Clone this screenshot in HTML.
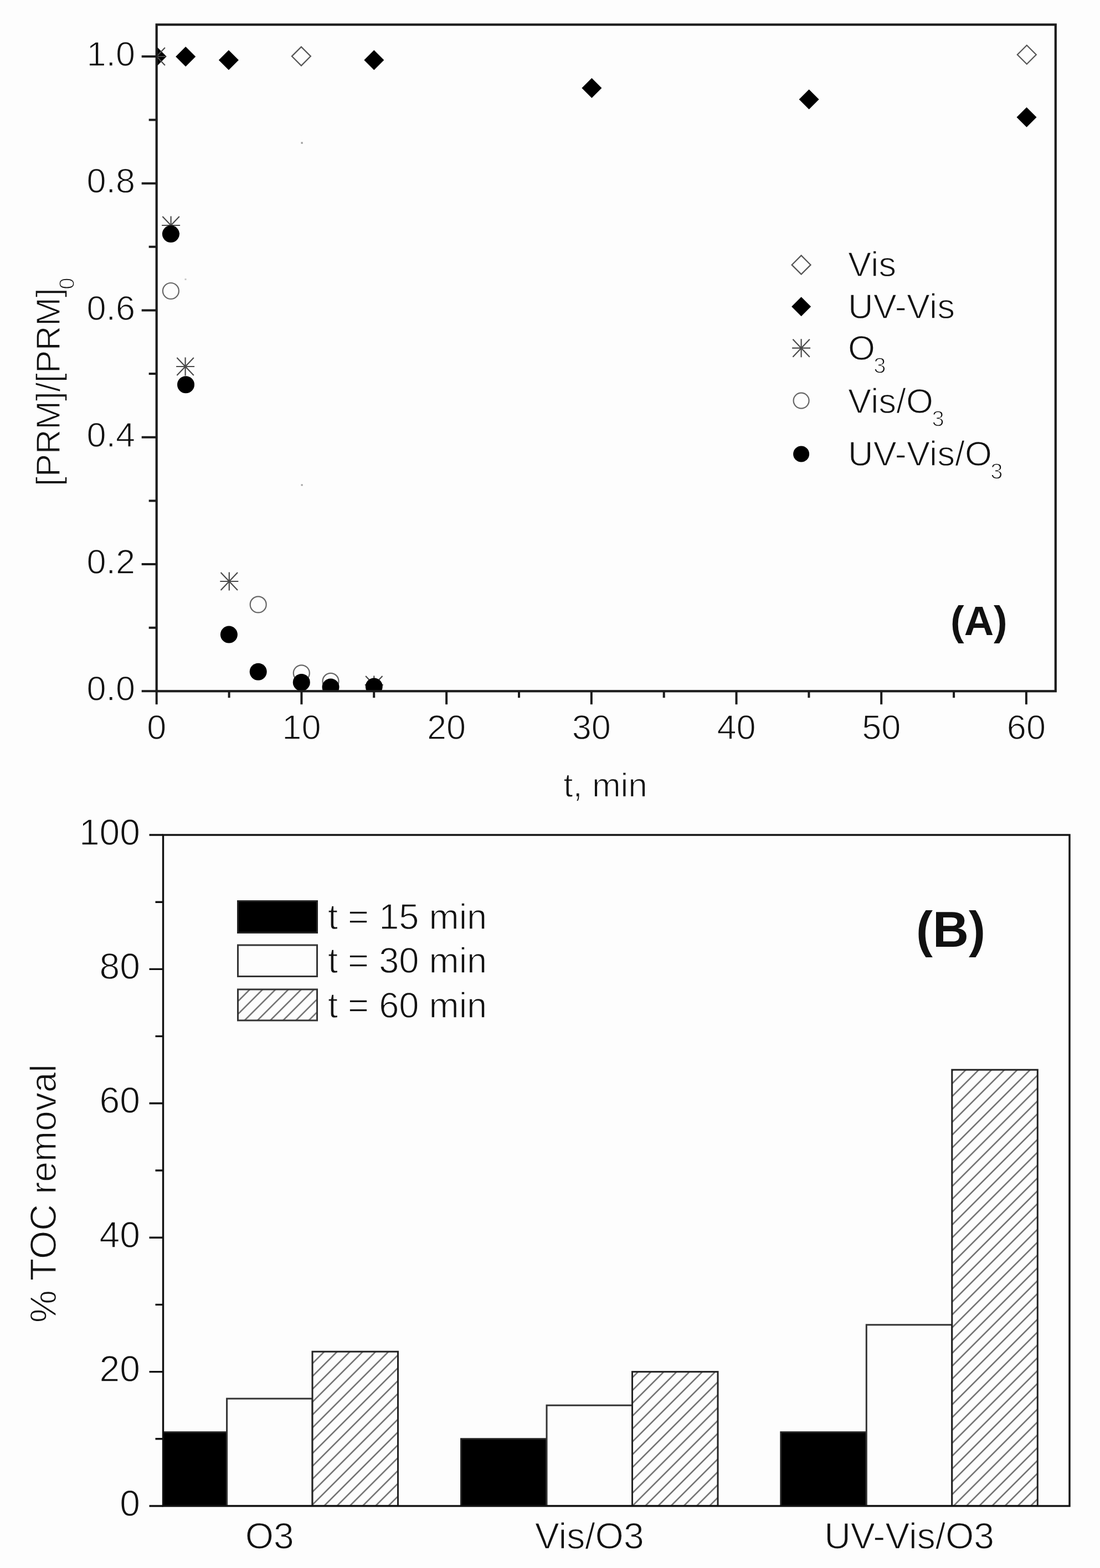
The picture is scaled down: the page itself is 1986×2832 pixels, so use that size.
<!DOCTYPE html>
<html><head><meta charset="utf-8"><title>Figure</title><style>html,body{margin:0;padding:0;background:#fdfdfd;width:1986px;height:2832px;overflow:hidden}</style></head><body>
<svg width="1986" height="2832" viewBox="0 0 1986 2832" style="display:block">
<style>text.r{stroke:#fdfdfd;stroke-width:1.3px;paint-order:normal}</style>
<defs>
<clipPath id="clipA"><rect x="282.7" y="44.5" width="1623.1" height="1203.8"/></clipPath>
<pattern id="hatch" patternUnits="userSpaceOnUse" width="16.4" height="16.4" patternTransform="rotate(45)"><line x1="8.2" y1="-1" x2="8.2" y2="17.4" stroke="#5e5e5e" stroke-width="2.3"/></pattern>
</defs>
<rect width="1986" height="2832" fill="#fdfdfd"/>
<g clip-path="url(#clipA)">
<path d="M543.9 84.6 L560.9 101.6 L543.9 118.6 L526.9 101.6 Z" fill="none" stroke="#555" stroke-width="2.2"/>
<path d="M1853.8 81.8 L1870.8 98.8 L1853.8 115.8 L1836.8 98.8 Z" fill="none" stroke="#555" stroke-width="2.2"/>
<path d="M282.7 84.0 L300.7 102.0 L282.7 120.0 L264.7 102.0 Z" fill="#000"/>
<path d="M335.2 84.2 L353.2 102.2 L335.2 120.2 L317.2 102.2 Z" fill="#000"/>
<path d="M412.9 90.4 L430.9 108.4 L412.9 126.4 L394.9 108.4 Z" fill="#000"/>
<path d="M675.3 90.4 L693.3 108.4 L675.3 126.4 L657.3 108.4 Z" fill="#000"/>
<path d="M1068.4 140.9 L1086.4 158.9 L1068.4 176.9 L1050.4 158.9 Z" fill="#000"/>
<path d="M1460.6 161.4 L1478.6 179.4 L1460.6 197.4 L1442.6 179.4 Z" fill="#000"/>
<path d="M1853.5 193.8 L1871.5 211.8 L1853.5 229.8 L1835.5 211.8 Z" fill="#000"/>
<path d="M266.2 102.0 H299.2 M282.7 85.5 V118.5 M267.5 86.0 L297.9 118.0 M297.9 86.0 L267.5 118.0" fill="none" stroke="#4a4a4a" stroke-width="2.2"/>
<path d="M292.1 407.0 H325.1 M308.6 390.5 V423.5 M293.4 391.0 L323.8 423.0 M323.8 391.0 L293.4 423.0" fill="none" stroke="#4a4a4a" stroke-width="2.2"/>
<path d="M318.1 662.0 H351.1 M334.6 645.5 V678.5 M319.4 646.0 L349.8 678.0 M349.8 646.0 L319.4 678.0" fill="none" stroke="#4a4a4a" stroke-width="2.2"/>
<path d="M397.3 1050.0 H430.3 M413.8 1033.5 V1066.5 M398.6 1034.0 L429.0 1066.0 M429.0 1034.0 L398.6 1066.0" fill="none" stroke="#4a4a4a" stroke-width="2.2"/>
<path d="M658.8 1237.0 H691.8 M675.3 1220.5 V1253.5 M660.1 1221.0 L690.5 1253.0 M690.5 1221.0 L660.1 1253.0" fill="none" stroke="#4a4a4a" stroke-width="2.2"/>
<circle cx="308.4" cy="525.5" r="14.5" fill="#fdfdfd" stroke="#666" stroke-width="2.2"/>
<circle cx="466.2" cy="1091.9" r="14.5" fill="#fdfdfd" stroke="#666" stroke-width="2.2"/>
<circle cx="544.3" cy="1215.8" r="14.5" fill="#fdfdfd" stroke="#666" stroke-width="2.2"/>
<circle cx="597.0" cy="1230.4" r="14.5" fill="#fdfdfd" stroke="#666" stroke-width="2.2"/>
<circle cx="308.4" cy="422.6" r="15.5" fill="#000"/>
<circle cx="335.5" cy="694.7" r="15.5" fill="#000"/>
<circle cx="413.4" cy="1146.1" r="15.5" fill="#000"/>
<circle cx="466.2" cy="1213.3" r="15.5" fill="#000"/>
<circle cx="544.3" cy="1232.5" r="15.5" fill="#000"/>
<circle cx="597.0" cy="1241.0" r="15.5" fill="#000"/>
<circle cx="675.3" cy="1240.0" r="15.5" fill="#000"/>
</g>
<rect x="543.5" y="256.5" width="3.2" height="3.2" fill="#9a9a9a"/>
<rect x="543.5" y="874.5" width="3.2" height="3" fill="#a0a0a0"/>
<rect x="333.5" y="503" width="3" height="3" fill="#c8c8c8"/>
<rect x="282.7" y="44.5" width="1623.1" height="1203.8" fill="none" stroke="#1c1c1c" stroke-width="4.2"/>
<path d="M282.7 1248.3 V1272.3 M413.6 1248.3 V1260.3 M544.4 1248.3 V1272.3 M675.2 1248.3 V1260.3 M806.1 1248.3 V1272.3 M937.0 1248.3 V1260.3 M1067.8 1248.3 V1272.3 M1198.7 1248.3 V1260.3 M1329.5 1248.3 V1272.3 M1460.4 1248.3 V1260.3 M1591.2 1248.3 V1272.3 M1722.1 1248.3 V1260.3 M1852.9 1248.3 V1272.3 M282.7 1248.3 H255.7 M282.7 1133.7 H268.7 M282.7 1019.0 H255.7 M282.7 904.4 H268.7 M282.7 789.7 H255.7 M282.7 675.1 H268.7 M282.7 560.5 H255.7 M282.7 445.8 H268.7 M282.7 331.2 H255.7 M282.7 216.5 H268.7 M282.7 101.9 H255.7" stroke="#1c1c1c" stroke-width="4" fill="none"/>
<g font-family='"Liberation Sans", Arial, Helvetica, sans-serif' font-size="63" fill="#111">
<text class="r" x="282.7" y="1335" text-anchor="middle">0</text>
<text class="r" x="544.4" y="1335" text-anchor="middle">10</text>
<text class="r" x="806.1" y="1335" text-anchor="middle">20</text>
<text class="r" x="1067.8" y="1335" text-anchor="middle">30</text>
<text class="r" x="1329.5" y="1335" text-anchor="middle">40</text>
<text class="r" x="1591.2" y="1335" text-anchor="middle">50</text>
<text class="r" x="1852.9" y="1335" text-anchor="middle">60</text>
<text class="r" x="244" y="1265.3" text-anchor="end">0.0</text>
<text class="r" x="244" y="1036.0" text-anchor="end">0.2</text>
<text class="r" x="244" y="806.7" text-anchor="end">0.4</text>
<text class="r" x="244" y="577.5" text-anchor="end">0.6</text>
<text class="r" x="244" y="348.2" text-anchor="end">0.8</text>
<text class="r" x="244" y="118.9" text-anchor="end">1.0</text>
</g>
<text class="r" x="1093" y="1439" text-anchor="middle" font-family='"Liberation Sans", Arial, Helvetica, sans-serif' font-size="62" fill="#111">t, min</text>
<text class="r" transform="translate(107.7 878) rotate(-90)" font-family='"Liberation Sans", Arial, Helvetica, sans-serif' font-size="62" fill="#111" letter-spacing="-0.4">[PRM]/[PRM]<tspan font-size="38" dy="26" dx="-2">0</tspan></text>
<path d="M1446.6 461.4 L1463.6 478.4 L1446.6 495.4 L1429.6 478.4 Z" fill="none" stroke="#555" stroke-width="2.2"/>
<path d="M1446.6 536.2 L1464.1 553.7 L1446.6 571.2 L1429.1 553.7 Z" fill="#000"/>
<path d="M1430.1 628.7 H1463.1 M1446.6 612.2 V645.2 M1431.4 612.7 L1461.8 644.7 M1461.8 612.7 L1431.4 644.7" fill="none" stroke="#4a4a4a" stroke-width="2.2"/>
<circle cx="1446.6" cy="723.6" r="14" fill="#fdfdfd" stroke="#666" stroke-width="2.2"/>
<circle cx="1446.6" cy="820.0" r="14.5" fill="#000"/>
<g font-family='"Liberation Sans", Arial, Helvetica, sans-serif' font-size="63" fill="#111" letter-spacing="0.3">
<text class="r" x="1531" y="498.8">Vis</text>
<text class="r" x="1531" y="574.7">UV-Vis</text>
<text class="r" x="1531" y="649.8">O<tspan font-size="40" dy="24" dx="-3">3</tspan></text>
<text class="r" x="1531" y="745.8">Vis/O<tspan font-size="40" dy="24" dx="-3">3</tspan></text>
<text class="r" x="1531" y="841.2">UV-Vis/O<tspan font-size="40" dy="24" dx="-3">3</tspan></text>
</g>
<text x="1716" y="1147.4" font-family='"Liberation Sans", Arial, Helvetica, sans-serif' font-weight="bold" font-size="74" fill="#111">(A)</text>
<clipPath id="clipB"><rect x="294.5" y="1508.0" width="1636.5" height="1212.0"/></clipPath>
<g clip-path="url(#clipB)">
<rect x="255.1" y="2586.7" width="154.5" height="133.3" fill="#000" stroke="#222" stroke-width="3"/>
<rect x="409.6" y="2526.1" width="154.5" height="193.9" fill="#fdfdfd" stroke="#333" stroke-width="3"/>
<rect x="564.0" y="2441.2" width="154.5" height="278.8" fill="#fdfdfd"/>
<rect x="564.0" y="2441.2" width="154.5" height="278.8" fill="url(#hatch)" stroke="#222" stroke-width="3"/>
<rect x="832.5" y="2598.8" width="154.5" height="121.2" fill="#000" stroke="#222" stroke-width="3"/>
<rect x="987.0" y="2538.2" width="154.5" height="181.8" fill="#fdfdfd" stroke="#333" stroke-width="3"/>
<rect x="1141.5" y="2477.6" width="154.5" height="242.4" fill="#fdfdfd"/>
<rect x="1141.5" y="2477.6" width="154.5" height="242.4" fill="url(#hatch)" stroke="#222" stroke-width="3"/>
<rect x="1409.8" y="2586.7" width="154.5" height="133.3" fill="#000" stroke="#222" stroke-width="3"/>
<rect x="1564.3" y="2392.8" width="154.5" height="327.2" fill="#fdfdfd" stroke="#333" stroke-width="3"/>
<rect x="1718.8" y="1932.2" width="154.5" height="787.8" fill="#fdfdfd"/>
<rect x="1718.8" y="1932.2" width="154.5" height="787.8" fill="url(#hatch)" stroke="#222" stroke-width="3"/>
</g>
<rect x="294.5" y="1508.0" width="1636.5" height="1212.0" fill="none" stroke="#111" stroke-width="3.4"/>
<path d="M294.5 2720.0 H269.5 M294.5 2598.8 H280.5 M294.5 2477.6 H269.5 M294.5 2356.4 H280.5 M294.5 2235.2 H269.5 M294.5 2114.0 H280.5 M294.5 1992.8 H269.5 M294.5 1871.6 H280.5 M294.5 1750.4 H269.5 M294.5 1629.2 H280.5 M294.5 1508.0 H269.5" stroke="#111" stroke-width="3.4" fill="none"/>
<g font-family='"Liberation Sans", Arial, Helvetica, sans-serif' font-size="66" fill="#111">
<text class="r" x="253" y="2737.5" text-anchor="end">0</text>
<text class="r" x="253" y="2495.1" text-anchor="end">20</text>
<text class="r" x="253" y="2252.7" text-anchor="end">40</text>
<text class="r" x="253" y="2010.3" text-anchor="end">60</text>
<text class="r" x="253" y="1767.9" text-anchor="end">80</text>
<text class="r" x="253" y="1525.5" text-anchor="end">100</text>
<text class="r" x="486.8" y="2797" text-anchor="middle">O3</text>
<text class="r" x="1064.2" y="2797" text-anchor="middle">Vis/O3</text>
<text class="r" x="1641.6" y="2797" text-anchor="middle">UV-Vis/O3</text>
</g>
<text class="r" transform="translate(100.5 2389) rotate(-90)" font-family='"Liberation Sans", Arial, Helvetica, sans-serif' font-size="66" fill="#111">% TOC removal</text>
<rect x="429.5" y="1627.5" width="143" height="57" fill="#000" stroke="#222" stroke-width="3"/>
<rect x="429.5" y="1707" width="143" height="56.5" fill="#fdfdfd" stroke="#333" stroke-width="3"/>
<rect x="429.5" y="1787" width="143" height="56" fill="url(#hatch)" stroke="#333" stroke-width="3"/>
<g font-family='"Liberation Sans", Arial, Helvetica, sans-serif' font-size="65" fill="#111">
<text class="r" x="592" y="1677.6">t = 15 min</text>
<text class="r" x="592" y="1756.8">t = 30 min</text>
<text class="r" x="592" y="1837.6">t = 60 min</text>
</g>
<text x="1654" y="1710" font-family='"Liberation Sans", Arial, Helvetica, sans-serif' font-weight="bold" font-size="90" fill="#111">(B)</text>
</svg>
</body></html>
